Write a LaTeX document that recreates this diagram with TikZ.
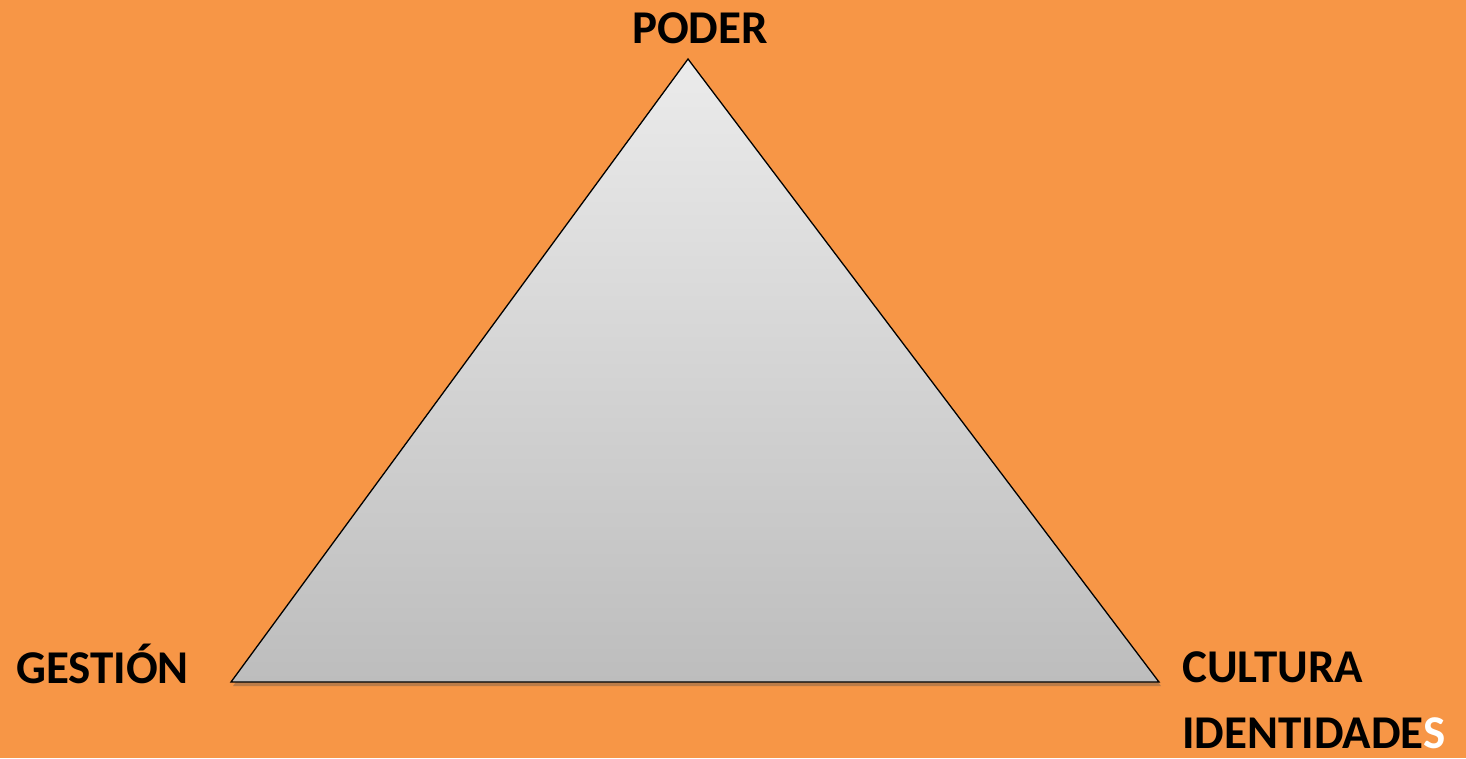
\documentclass[tikz,border=0pt]{standalone}
\usepackage{fontspec}
\setmainfont{Carlito}
\usetikzlibrary{shadows,shadings}
\definecolor{bgorange}{HTML}{F79646}
\definecolor{gtop}{HTML}{EBEBEB}
\definecolor{gbot}{HTML}{BDBDBD}
\tikzset{
  lbl/.style={anchor=base west, inner sep=0pt, font=\bfseries\fontsize{47}{47}\selectfont, text=black},
  tri/.style={draw=black, line width=1.3pt, line join=miter, top color=gtop, bottom color=gbot,
    drop shadow={shadow xshift=2pt, shadow yshift=-4pt, opacity=0.35, fill=black!70}}
}
\begin{document}
\begin{tikzpicture}[x=1pt,y=-1pt]
\fill[bgorange] (0,0) rectangle (1466,758);
\useasboundingbox (0,0) rectangle (1466,758);
\coordinate (T) at (688,59);
\coordinate (L) at (231,682);
\coordinate (R) at (1159,682);
\path[tri] (T) -- (R) -- (L) -- cycle;
\node[lbl] (poder) at (632,43) {PODER};
\node[lbl] (gestion) at (16,683) {GESTIÓN};
\node[lbl] (cultura) at (1182,682) {CULTURA};
\node[lbl] (ident) at (1182,748) {IDENTIDADE\textcolor{white}{S}};
\end{tikzpicture}
\end{document}
